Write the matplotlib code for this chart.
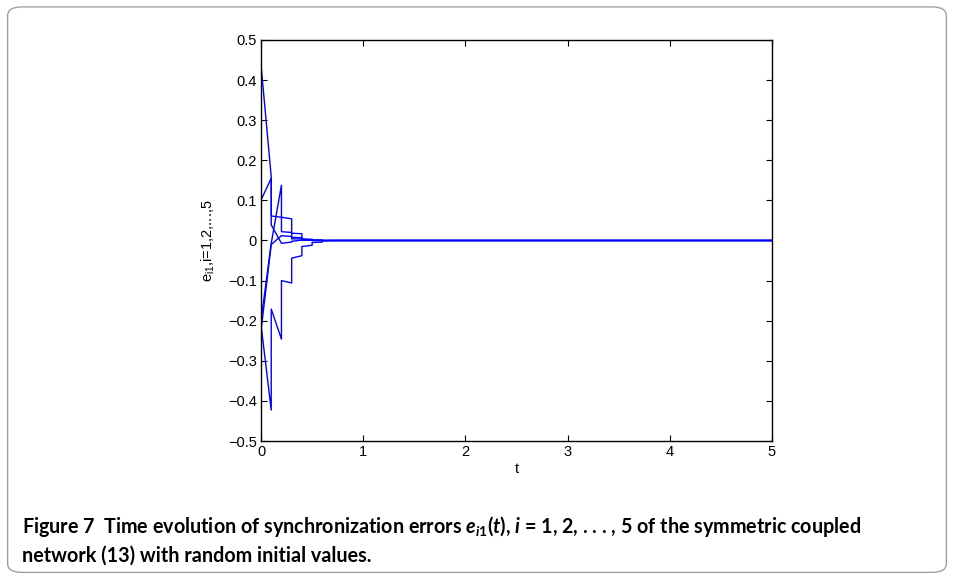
"""Synchronization errors e_i1(t) of the symmetric coupled network (Figure 7)."""

import matplotlib
matplotlib.use("Agg")
import matplotlib.pyplot as plt
import numpy as np
from matplotlib.patches import FancyBboxPatch

# impulse instants (the curves jump vertically at each of them)
t_impulse = [0.1, 0.2, 0.3, 0.4, 0.5, 0.6, 0.7]
t_end = 5.0

# e_i1(0) for each node
e_start = [0.438, 0.101, -0.200, -0.210, -0.225]

# value just before each impulse
e_pre = [
    [0.159, 0.058, 0.054, 0.017, 0.003, 0.001, 0.0],
    [0.155, -0.007, -0.004, 0.001, 0.001, 0.0, 0.0],
    [-0.007, 0.138, 0.020, 0.007, 0.002, 0.001, 0.0],
    [-0.423, -0.246, -0.106, -0.038, -0.012, -0.004, 0.0],
    [-0.010, 0.012, 0.010, 0.004, 0.001, 0.0, 0.0],
]
# value just after each impulse
e_post = [
    [0.061, 0.058, 0.018, 0.004, 0.001, 0.0, 0.0],
    [0.039, -0.007, -0.002, 0.001, 0.0, 0.0, 0.0],
    [-0.007, 0.022, 0.008, 0.002, 0.001, 0.0, 0.0],
    [-0.171, -0.100, -0.044, -0.015, -0.005, -0.001, 0.0],
    [-0.010, 0.012, 0.004, 0.001, 0.0, 0.0, 0.0],
]

x_ticks = [0, 1, 2, 3, 4, 5]
y_ticks = [-0.5, -0.4, -0.3, -0.2, -0.1, 0, 0.1, 0.2, 0.3, 0.4, 0.5]
y_ticklabels = ["\u22120.5", "\u22120.4", "\u22120.3", "\u22120.2", "\u22120.1",
                "0", "0.1", "0.2", "0.3", "0.4", "0.5"]

plt.rcParams["font.family"] = ["Liberation Sans", "DejaVu Sans"]
plt.rcParams["mathtext.fontset"] = "custom"
plt.rcParams["mathtext.rm"] = "Liberation Sans"
plt.rcParams["mathtext.it"] = "Liberation Sans:italic"
plt.rcParams["mathtext.bf"] = "Lato:bold"
plt.rcParams["mathtext.bfit"] = "Lato:italic:bold"


def build_curve(start, pre, post):
    ts, vs = [0.0], [start]
    for t, a, b in zip(t_impulse, pre, post):
        ts += [t, t]
        vs += [a, b]
    ts.append(t_end)
    vs.append(post[-1])
    return np.array(ts), np.array(vs)


fig = plt.figure(figsize=(9.54, 5.77), dpi=100)
ax = fig.add_axes([0.2736, 0.2357, 0.5356, 0.695])

for s, pre, post in zip(e_start, e_pre, e_post):
    tt, vv = build_curve(s, pre, post)
    ax.plot(tt, vv, color="#0000ff", lw=1.0)

ax.set_xlim(0, 5)
ax.set_ylim(-0.5, 0.5)
ax.set_xticks(x_ticks)
ax.set_yticks(y_ticks)
ax.set_yticklabels(y_ticklabels)
ax.tick_params(direction="in", top=True, right=True, labelsize=10.5, length=4,
               width=0.8, pad=3)
for sp in ax.spines.values():
    sp.set_linewidth(1.0)
ax.set_xlabel("t", fontsize=10.5, labelpad=2)
ax.set_ylabel(r"e$_{\mathrm{i1}}$,i=1,2,...,5", fontsize=10.5, labelpad=8)

# rounded frame around the whole figure
frame = FancyBboxPatch((0.008, 0.008), 0.984, 0.98, transform=fig.transFigure,
                       boxstyle="round,pad=0,rounding_size=0.015",
                       fc="none", ec="#a0a0a0", lw=1.0, clip_on=False)
fig.patches.append(frame)

cap_font = ["Lato", "DejaVu Sans"]
fig.text(0.023, 0.077,
         "Figure 7  Time evolution of synchronization errors "
         r"$\mathbfit{e}_{\mathbfit{i}\mathbf{1}}\mathbf{(}\mathbfit{t}\mathbf{)}$"
         r", $\mathbfit{i}$ = 1, 2, . . . , 5 of the symmetric coupled",
         fontsize=14.2, fontweight="bold", family=cap_font, va="baseline")
fig.text(0.023, 0.026, "network (13) with random initial values.",
         fontsize=14.2, fontweight="bold", family=cap_font, va="baseline")

fig.savefig("out.png", dpi=100)
